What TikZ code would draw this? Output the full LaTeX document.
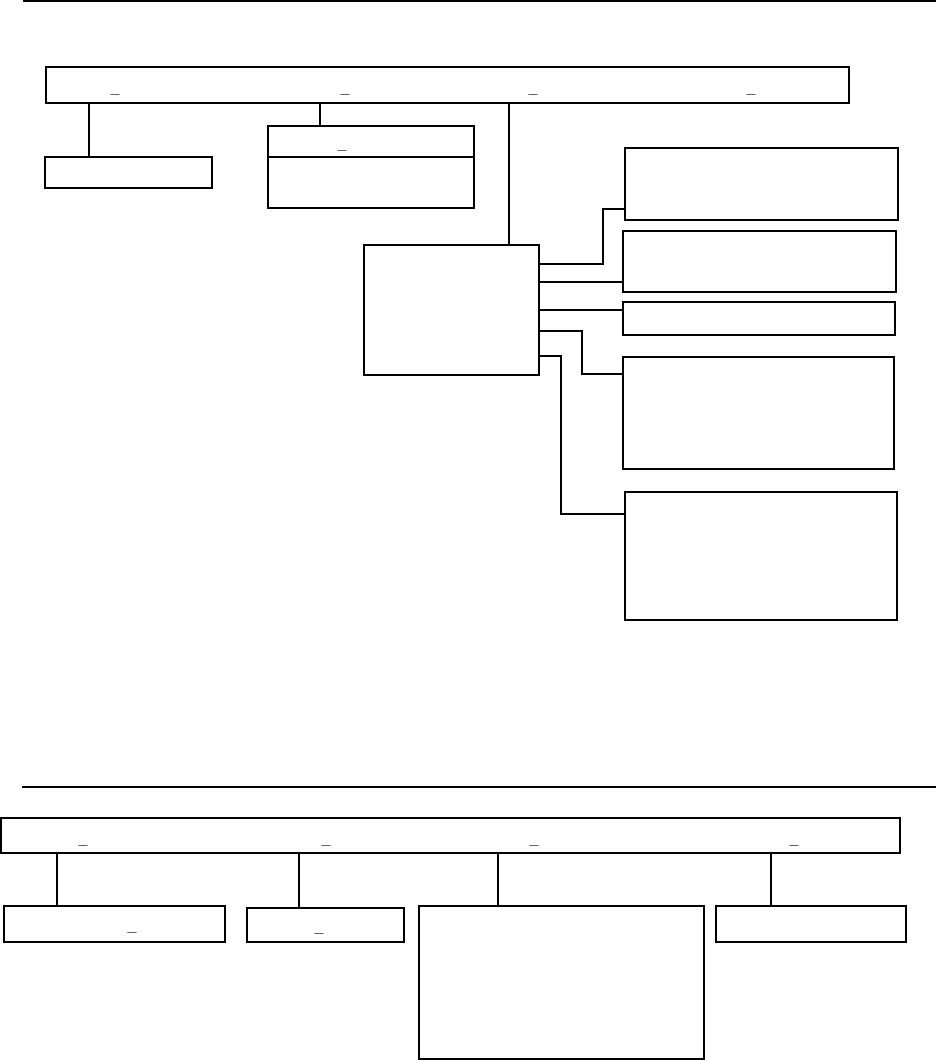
\documentclass[tikz,border=0pt]{standalone}
\usepackage{fontspec}
\setmainfont{Liberation Sans}
\usetikzlibrary{positioning}

\begin{document}
\begin{tikzpicture}[x=1pt, y=-1pt,
  box/.style={draw, line width=1.6pt, inner sep=0pt, outer sep=0pt, anchor=north west},
  conn/.style={line width=1.1pt},
  tconn/.style={line width=1.8pt},
  uscore/.style={font=\fontsize{16}{16}\selectfont\bfseries, inner sep=0pt, anchor=base}]
\useasboundingbox (0,0) rectangle (936,1060);

% rules
\draw[line width=2.2pt] (23,1) -- (936,1);
\draw[line width=2pt] (22,787) -- (936,787);

% upper tree
\node[box, minimum width=803, minimum height=36] (top) at (46,67) {};
\node[box, minimum width=167, minimum height=31] (sub1) at (45,157) {};
\node[box, minimum width=206, minimum height=31] (sub2h) at (268,126) {};
\node[box, minimum width=206, minimum height=51, below=0pt of sub2h] (sub2b) {};
\node[box, minimum width=175, minimum height=130] (ctr) at (364,245) {};
\node[box, minimum width=273, minimum height=72] (outA) at (625,148) {};
\node[box, minimum width=273, minimum height=61] (outB) at (623,231) {};
\node[box, minimum width=272, minimum height=33] (outC) at (623,302) {};
\node[box, minimum width=271, minimum height=112] (outD) at (623,357) {};
\node[box, minimum width=272, minimum height=128] (outE) at (625,492) {};

\foreach \x/\n in {115/a,345/b,533/c,751/d}
  \node[uscore] (tu\n) at (\x,93) {\_};
\node[uscore] (su) at (342,149) {\_};

\draw[conn] ([xshift=43]top.south west) -- ([xshift=44]sub1.north west);
\draw[conn] ([xshift=274]top.south west) -- ([xshift=52]sub2h.north west);
\draw[conn] ([xshift=463]top.south west) -- ([xshift=145]ctr.north west);

\draw[tconn] ([yshift=-19]ctr.north east) -| ([xshift=-22,yshift=11]outA.south west) -- ([yshift=11]outA.south west);
\draw[conn] ([yshift=-37]ctr.north east) -- ([yshift=10]outB.south west);
\draw[tconn] ([yshift=-65]ctr.north east) -- ([yshift=-8]outC.north west);
\draw[conn] ([yshift=-86]ctr.north east) -| ([xshift=-41,yshift=-17]outD.north west) -- ([yshift=-17]outD.north west);
\draw[tconn] ([yshift=-111]ctr.north east) -| ([xshift=-64,yshift=-22]outE.north west) -- ([yshift=-22]outE.north west);

% lower tree
\node[box, minimum width=899, minimum height=35] (bot) at (1,818) {};
\node[box, minimum width=221, minimum height=36] (low1) at (4,906) {};
\node[box, minimum width=157, minimum height=34] (low2) at (247,908) {};
\node[box, minimum width=285, minimum height=153] (low3) at (419,906) {};
\node[box, minimum width=190, minimum height=36] (low4) at (716,906) {};

\foreach \x/\n in {83/a,326/b,534/c,794/d}
  \node[uscore] (bu\n) at (\x,844) {\_};
\node[uscore] (lu1) at (132,931) {\_};
\node[uscore] (lu2) at (319,932) {\_};

\draw[tconn] ([xshift=56]bot.south west) -- ([xshift=53]low1.north west);
\draw[tconn] ([xshift=298]bot.south west) -- ([xshift=52]low2.north west);
\draw[conn] ([xshift=497]bot.south west) -- ([xshift=79]low3.north west);
\draw[conn] ([xshift=770]bot.south west) -- ([xshift=55]low4.north west);
\end{tikzpicture}
\end{document}
